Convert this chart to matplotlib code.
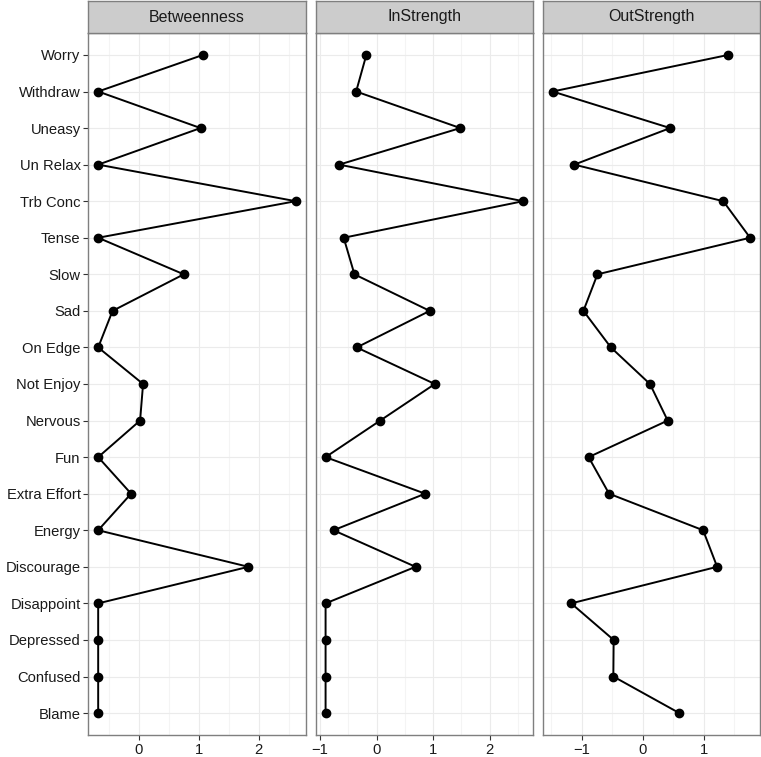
import matplotlib
matplotlib.use("Agg")
import matplotlib.pyplot as plt
from matplotlib.ticker import MultipleLocator

plt.rcParams['font.family'] = ['Liberation Sans', 'DejaVu Sans']

# nodes, top to bottom as shown
nodes = ['Worry', 'Withdraw', 'Uneasy', 'Un Relax', 'Trb Conc', 'Tense', 'Slow',
         'Sad', 'On Edge', 'Not Enjoy', 'Nervous', 'Fun', 'Extra Effort', 'Energy',
         'Discourage', 'Disappoint', 'Depressed', 'Confused', 'Blame']

betweenness = [1.07, -0.68, 1.03, -0.68, 2.62, -0.68, 0.75, -0.44, -0.68, 0.07,
               0.02, -0.68, -0.13, -0.68, 1.83, -0.68, -0.68, -0.68, -0.68]
instrength = [-0.18, -0.36, 1.48, -0.66, 2.59, -0.58, -0.39, 0.94, -0.35, 1.03,
              0.065, -0.90, 0.86, -0.76, 0.69, -0.90, -0.90, -0.90, -0.90]
outstrength = [1.40, -1.475, 0.45, -1.12, 1.32, 1.76, -0.74, -0.97, -0.52, 0.12,
               0.41, -0.885, -0.55, 0.99, 1.22, -1.17, -0.475, -0.48, 0.60]

titles = ['Betweenness', 'InStrength', 'OutStrength']
series = [betweenness, instrength, outstrength]

W, H = 761, 757
fig = plt.figure(figsize=(W / 100, H / 100), dpi=100)

lefts = [88.3, 315.7, 542.7]
pw = 217.3
ptop, pbot = 33, 735
strip_top = 1

ypos = list(range(len(nodes), 0, -1))  # Worry on top

for i, (title, vals) in enumerate(zip(titles, series)):
    ax = fig.add_axes([lefts[i] / W, (H - pbot) / H, pw / W, (pbot - ptop) / H])
    ax.plot(vals, ypos, color='black', lw=1.4, marker='o', ms=6, zorder=3)

    lo, hi = min(vals), max(vals)
    pad = (hi - lo) * 0.05
    ax.set_xlim(lo - pad, hi + pad)
    ax.set_ylim(0.4, len(nodes) + 0.6)

    ax.xaxis.set_major_locator(MultipleLocator(1))
    ax.xaxis.set_minor_locator(MultipleLocator(0.5))
    ax.set_yticks(ypos)

    ax.grid(True, which='major', color='#EBEBEB', lw=0.8, zorder=0)
    ax.grid(True, which='minor', axis='x', color='#F4F4F4', lw=0.8, zorder=0)
    ax.set_axisbelow(True)
    for s in ax.spines.values():
        s.set_color('#7F7F7F')
        s.set_linewidth(1.0)
    ax.tick_params(axis='both', which='major', length=3.5, color='#333333',
                   labelsize=10.6, labelcolor='#1a1a1a', pad=2)
    ax.tick_params(axis='x', which='minor', length=0)
    if i == 0:
        ax.set_yticklabels(nodes)
    else:
        ax.set_yticklabels([])
        ax.tick_params(axis='y', which='major', length=0)
    ax.set_xticklabels([f'{t:g}'.replace('-', '\u2212') for t in ax.get_xticks()])

    # facet strip
    sax = fig.add_axes([lefts[i] / W, (H - ptop) / H, pw / W, (ptop - strip_top) / H])
    sax.set_facecolor('#CCCCCC')
    sax.set_xticks([])
    sax.set_yticks([])
    for s in sax.spines.values():
        s.set_color('#7F7F7F')
        s.set_linewidth(1.0)
    sax.text(0.5, 0.5, title, ha='center', va='center', fontsize=11.5,
             color='#1a1a1a', transform=sax.transAxes)

fig.savefig('out.png', dpi=100)
